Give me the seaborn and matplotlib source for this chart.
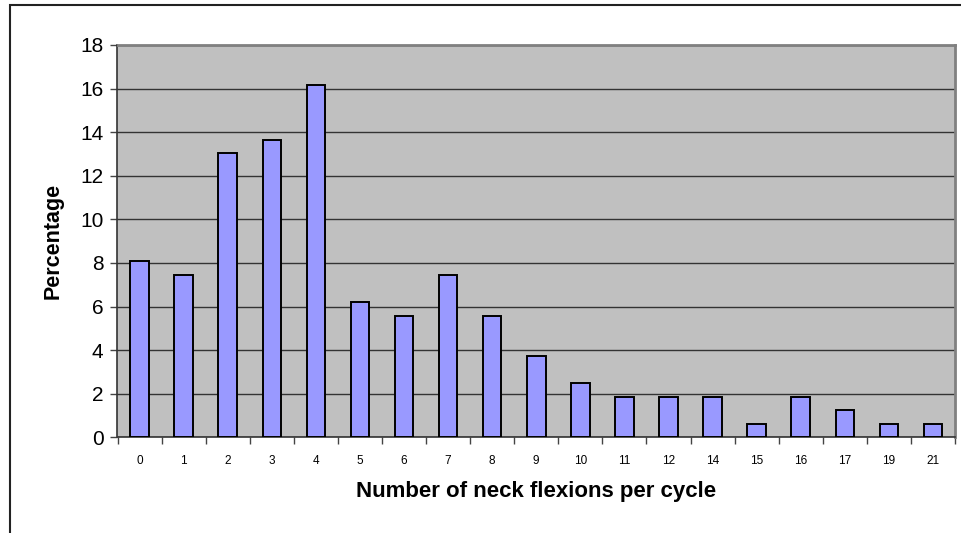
import matplotlib
matplotlib.use("Agg")
import matplotlib.pyplot as plt
import seaborn as sns
import pandas as pd
from matplotlib.patches import Rectangle

categories = ["0", "1", "2", "3", "4", "5", "6", "7", "8", "9", "10",
              "11", "12", "14", "15", "16", "17", "19", "21"]
percentages = [8.07, 7.45, 13.04, 13.66, 16.15, 6.21, 5.59, 7.45, 5.59, 3.73,
               2.48, 1.86, 1.86, 1.86, 0.62, 1.86, 1.24, 0.62, 0.62]
y_ticks = [0, 2, 4, 6, 8, 10, 12, 14, 16, 18]

df = pd.DataFrame({"cat": categories, "pct": percentages})

sns.set_theme(style="white")
plt.rcParams["font.family"] = ["Liberation Sans", "DejaVu Sans"]
plt.rcParams["text.color"] = "black"
plt.rcParams["axes.labelcolor"] = "black"
plt.rcParams["xtick.color"] = "black"
plt.rcParams["ytick.color"] = "black"

W, H = 962, 533
fig = plt.figure(figsize=(W / 100, H / 100), dpi=100)
ax = fig.add_axes([117.5 / W, 1 - 437.4 / H, (955 - 117.5) / W, (437.4 - 45) / H])
ax.set_facecolor("#C0C0C0")

sns.barplot(data=df, x="cat", y="pct", order=categories, color="#9999FF",
            saturation=1, width=0.42, edgecolor="black", linewidth=1.4,
            ax=ax, zorder=3)

ax.set_ylim(0, 18)
ax.set_xlim(-0.5, len(categories) - 0.5)
ax.set_yticks(y_ticks)
ax.set_yticklabels([str(v) for v in y_ticks], fontsize=15)
ax.yaxis.grid(True, color="#333333", linewidth=1.0, zorder=1)
ax.xaxis.grid(False)
ax.set_axisbelow(True)

# ticks at category boundaries
ax.set_xticks([i - 0.5 for i in range(len(categories) + 1)], minor=False)
ax.set_xticklabels([""] * (len(categories) + 1))
ax.set_xticks(list(range(len(categories))), minor=True)
ax.set_xticklabels(categories, minor=True, fontsize=8.5)
ax.tick_params(axis="x", which="major", direction="out", length=5, width=1,
               color="#444444", bottom=True)
ax.tick_params(axis="x", which="minor", length=0, pad=13, bottom=True)
ax.tick_params(axis="y", direction="out", length=5, width=1, color="#444444",
               left=True, pad=5)

for side in ["top", "right"]:
    ax.spines[side].set_color("#808080")
    ax.spines[side].set_linewidth(2)
for side in ["left", "bottom"]:
    ax.spines[side].set_color("#333333")
    ax.spines[side].set_linewidth(1.2)

ax.set_xlabel("Number of neck flexions per cycle", fontsize=16, fontweight="bold",
              labelpad=10)
ax.set_ylabel("Percentage", fontsize=15.5, fontweight="bold", labelpad=12)

# outer chart border (top and left visible)
fig.patches.append(Rectangle((9.5 / W, -0.1), 1.2, 1.1 - 5.5 / H,
                             transform=fig.transFigure, fill=False,
                             edgecolor="#222222", linewidth=1.5))

fig.savefig("out.png", dpi=100)
